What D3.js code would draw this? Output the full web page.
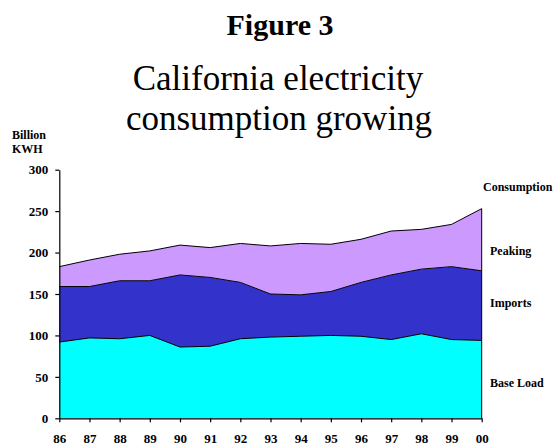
<!DOCTYPE html>
<html>
<head>
<meta charset="utf-8">
<script src="https://cdn.jsdelivr.net/npm/d3@7"></script>
<style>
  html, body { margin: 0; padding: 0; background: #fff; }
  svg { display: block; }
  text { font-family: "Liberation Serif", "Times New Roman", serif; fill: #000; }
</style>
</head>
<body>
<svg id="chart" width="558" height="445"></svg>
<script>
// California electricity supply by source, billion kWh
const years = ["86","87","88","89","90","91","92","93","94","95","96","97","98","99","00"];
const baseLoad = [92, 97, 96, 100, 86, 87, 96, 98, 99, 100, 99, 95, 102, 95, 94];
const imports  = [67, 62, 70, 66, 87, 83, 68, 52, 50, 53, 65, 78, 78, 88, 84];
const peaking  = [24, 32, 32, 36, 36, 36, 47, 58, 62, 57, 52, 53, 48, 51, 75];
const yTicks = [0, 50, 100, 150, 200, 250, 300];

const seriesKeys = ["baseLoad", "imports", "peaking"];
const seriesColors = { baseLoad: "#00ffff", imports: "#3333cc", peaking: "#cc99ff" };

const rows = years.map((yr, i) => ({
  year: yr, baseLoad: baseLoad[i], imports: imports[i], peaking: peaking[i]
}));

const svg = d3.select("#chart");

const plot = { left: 59.3, right: 481.7, top: 169.7, bottom: 418.3 };

const x = d3.scalePoint().domain(years).range([plot.left, plot.right]);
const y = d3.scaleLinear().domain([0, 300]).range([plot.bottom, plot.top]);

const stacked = d3.stack().keys(seriesKeys)(rows);

const area = d3.area()
  .x(d => x(d.data.year))
  .y0(d => y(d[0]))
  .y1(d => y(d[1]));

const topLine = d3.line()
  .x(d => x(d.data.year))
  .y(d => y(d[1]));

const g = svg.append("g");

g.selectAll("path.layer")
  .data(stacked)
  .join("path")
  .attr("class", "layer")
  .attr("fill", d => seriesColors[d.key])
  .attr("d", area);

g.selectAll("path.edge")
  .data(stacked)
  .join("path")
  .attr("class", "edge")
  .attr("fill", "none")
  .attr("stroke", "#000")
  .attr("stroke-width", 1)
  .attr("d", topLine);

// closing edge on the last year
const last = stacked[stacked.length - 1][years.length - 1];
g.append("line")
  .attr("x1", x(years[years.length - 1])).attr("x2", x(years[years.length - 1]))
  .attr("y1", y(0)).attr("y2", y(last[1]))
  .attr("stroke", "#000").attr("stroke-width", 1);

// axes
const yAxis = d3.axisLeft(y).tickValues(yTicks).tickSize(4).tickSizeOuter(0).tickPadding(7);
const xAxis = d3.axisBottom(x).tickSize(4).tickSizeOuter(0).tickPadding(11);

const yg = svg.append("g").attr("transform", `translate(${plot.left},0)`).call(yAxis);
const xg = svg.append("g").attr("transform", `translate(0,${plot.bottom})`).call(xAxis);

[yg, xg].forEach(ax => {
  ax.selectAll("path.domain").attr("stroke", "#000").attr("stroke-width", 1.2);
  ax.selectAll(".tick line").attr("stroke", "#000").attr("stroke-width", 1.2);
  ax.selectAll(".tick text")
    .style("font-family", "'Liberation Serif', 'Times New Roman', serif")
    .style("font-size", "13px")
    .style("font-weight", "bold")
    .attr("fill", "#000");
});

// titles
svg.append("text")
  .attr("x", 280).attr("y", 35)
  .attr("text-anchor", "middle")
  .style("font-size", "30px").style("font-weight", "bold")
  .text("Figure 3");

svg.append("text")
  .attr("x", 278).attr("y", 90)
  .attr("text-anchor", "middle")
  .style("font-size", "35px")
  .text("California electricity");

svg.append("text")
  .attr("x", 279).attr("y", 130)
  .attr("text-anchor", "middle")
  .style("font-size", "35px")
  .text("consumption growing");

// y-axis unit label
svg.append("text")
  .attr("x", 12).attr("y", 139)
  .style("font-size", "12px").style("font-weight", "bold")
  .text("Billion");
svg.append("text")
  .attr("x", 12).attr("y", 153)
  .style("font-size", "12px").style("font-weight", "bold")
  .text("KWH");

// series labels at the right
const sideLabels = [
  { text: "Consumption", x: 483, y: 191 },
  { text: "Peaking", x: 490, y: 255 },
  { text: "Imports", x: 490, y: 307 },
  { text: "Base Load", x: 490, y: 387 }
];
svg.selectAll("text.side")
  .data(sideLabels)
  .join("text")
  .attr("class", "side")
  .attr("x", d => d.x).attr("y", d => d.y)
  .style("font-size", "12px").style("font-weight", "bold")
  .text(d => d.text);
</script>
</body>
</html>
